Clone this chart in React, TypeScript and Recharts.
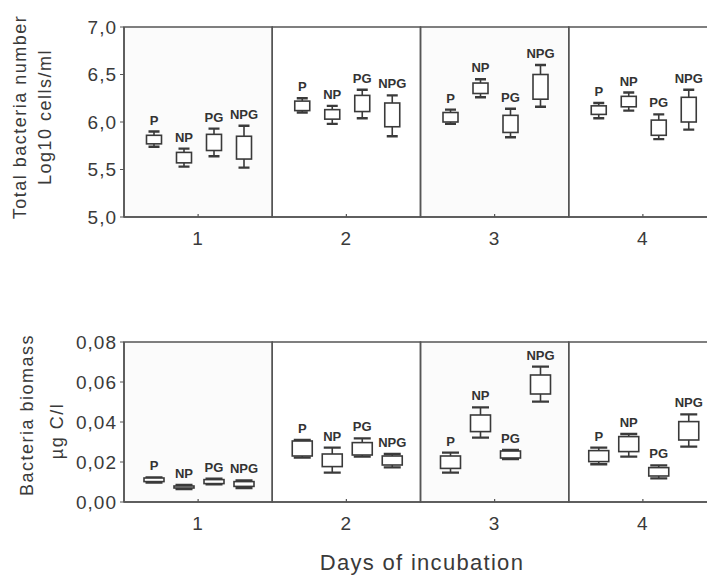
import React from 'react';
import { ComposedChart, Bar, XAxis, YAxis, ReferenceArea } from 'recharts';

const days = ['1', '2', '3', '4'];
const groups = ['P', 'NP', 'PG', 'NPG'];

// each entry: [min, q1, q3, max] for days 1..4
const cellsP = [[5.74, 5.77, 5.86, 5.9], [6.1, 6.12, 6.22, 6.25], [5.98, 6.0, 6.1, 6.13], [6.04, 6.08, 6.17, 6.2]];
const cellsNP = [[5.53, 5.57, 5.68, 5.72], [5.98, 6.03, 6.13, 6.17], [6.26, 6.3, 6.41, 6.45], [6.12, 6.16, 6.27, 6.31]];
const cellsPG = [[5.64, 5.7, 5.87, 5.93], [6.04, 6.11, 6.28, 6.34], [5.84, 5.89, 6.07, 6.14], [5.82, 5.86, 6.02, 6.08]];
const cellsNPG = [[5.52, 5.61, 5.85, 5.96], [5.85, 5.95, 6.2, 6.28], [6.16, 6.24, 6.5, 6.6], [5.92, 6.0, 6.26, 6.34]];

const biomassP = [[0.0097, 0.0102, 0.012, 0.0123], [0.0222, 0.023, 0.0305, 0.031], [0.0147, 0.0168, 0.023, 0.0247], [0.0189, 0.0202, 0.0257, 0.0272]];
const biomassNP = [[0.0065, 0.007, 0.008, 0.0085], [0.0147, 0.0177, 0.024, 0.0272], [0.0322, 0.0352, 0.0435, 0.0473], [0.0227, 0.0252, 0.0327, 0.034]];
const biomassPG = [[0.0088, 0.0092, 0.0112, 0.0117], [0.0227, 0.0235, 0.0297, 0.0318], [0.0215, 0.022, 0.0255, 0.026], [0.0118, 0.013, 0.0172, 0.0183]];
const biomassNPG = [[0.007, 0.0078, 0.0102, 0.0108], [0.0173, 0.0185, 0.023, 0.024], [0.0502, 0.054, 0.0635, 0.0677], [0.0277, 0.031, 0.0402, 0.0438]];

const cellTicks = [5, 5.5, 6, 6.5, 7];
const biomassTicks = [0, 0.02, 0.04, 0.06, 0.08];

const FONT = '"Liberation Sans", Arial, Helvetica, sans-serif';
const INK = '#3a3a3a';
const AXIS = '#555';

const buildRows = (p, np, pg, npg) =>
  days.map((day, i) => ({ day, P: p[i], NP: np[i], PG: pg[i], NPG: npg[i] }));

const topRows = buildRows(cellsP, cellsNP, cellsPG, cellsNPG);
const bottomRows = buildRows(biomassP, biomassNP, biomassPG, biomassNPG);

// box + whiskers drawn inside the bar slot that spans min..max
const makeBox = (name: string, boxW: number, capW: number) => (props: any) => {
  const { x, y, width, height, payload } = props;
  if (!payload || !payload[name]) return null;
  const [lo, q1, q3, hi] = payload[name];
  const top = Math.min(y, y + height);
  const bot = Math.max(y, y + height);
  const py = (v: number) => (hi === lo ? top : top + ((hi - v) / (hi - lo)) * (bot - top));
  const cx = x + width / 2;
  const bTop = py(q3);
  const bBot = py(q1);
  return (
    <g>
      <line x1={cx} x2={cx} y1={top} y2={bTop} stroke={INK} strokeWidth={1.6} />
      <line x1={cx} x2={cx} y1={bBot} y2={bot} stroke={INK} strokeWidth={1.6} />
      <line x1={cx - capW / 2} x2={cx + capW / 2} y1={top} y2={top} stroke={INK} strokeWidth={2.4} />
      <line x1={cx - capW / 2} x2={cx + capW / 2} y1={bot} y2={bot} stroke={INK} strokeWidth={2.4} />
      <rect x={cx - boxW / 2} y={bTop} width={boxW} height={Math.max(bBot - bTop, 0.5)} fill="#fff" stroke={INK} strokeWidth={1.6} />
      <text x={cx} y={top - 7} textAnchor="middle" fontFamily={FONT} fontWeight="bold" fontSize={13} fill="#333">
        {name}
      </text>
    </g>
  );
};

const XTick = (props: any) => {
  const { x, y, payload } = props;
  return (
    <g>
      <line x1={x} x2={x} y1={y} y2={y - 3} stroke={AXIS} strokeWidth={1.2} />
      <text x={x} y={y + 21} textAnchor="middle" dominantBaseline="central" fontFamily={FONT} fontSize={19} letterSpacing={1} fill={INK}>
        {payload.value}
      </text>
    </g>
  );
};

const makeYTick = (digits: number) => (props: any) => {
  const { x, y, payload } = props;
  return (
    <text x={x} y={y} textAnchor="end" dominantBaseline="central" fontFamily={FONT} fontSize={19} letterSpacing={1} fill={INK}>
      {Number(payload.value).toFixed(digits).replace('.', ',')}
    </text>
  );
};

const AxisTitle = ({ lines }: { lines: { text: string; x: number; y: number }[] }) => (
  <g>
    {lines.map((l) => (
      <text key={l.text} x={l.x} y={l.y} transform={`rotate(-90 ${l.x} ${l.y})`} textAnchor="middle" dominantBaseline="central" fontFamily={FONT} fontSize={18} letterSpacing={1.5} fill={INK}>
        {l.text}
      </text>
    ))}
  </g>
);

const Panel = ({ rows, domain, ticks, digits, boxW, capW, title }: any) => (
  <ComposedChart width={717} height={rows === topRows ? 257 : 242} data={rows} margin={{ top: rows === topRows ? 27 : 42, right: 0, bottom: 0, left: 0 }} barCategoryGap={15} barGap={0}>
    {days.map((d, i) => (
      <ReferenceArea key={d} x1={d} x2={d} fill={i % 2 === 0 ? '#000' : 'none'} fillOpacity={0.015} stroke={AXIS} strokeWidth={1.5} ifOverflow="visible" />
    ))}
    <XAxis dataKey="day" height={40} tickSize={0} tickMargin={0} tick={<XTick />} axisLine={{ stroke: AXIS, strokeWidth: 1.5 }} tickLine={false} interval={0} />
    <YAxis width={124} domain={domain} ticks={ticks} type="number" allowDataOverflow tickSize={4} tickMargin={3} tick={makeYTick(digits)} axisLine={{ stroke: AXIS, strokeWidth: 1.5 }} tickLine={{ stroke: AXIS }} label={<AxisTitle lines={title} />} />
    {groups.map((g) => (
      <Bar key={g} dataKey={(r: any) => [r[g][0], r[g][3]]} fill="none" isAnimationActive={false} shape={makeBox(g, boxW, capW)} />
    ))}
  </ComposedChart>
);

export default function App() {
  return (
    <div style={{ position: 'absolute', left: 0, top: 0, width: 707, height: 576, overflow: 'hidden', background: '#fff', fontFamily: FONT }}>
      <div style={{ position: 'absolute', left: 0, top: 0 }}>
        <Panel
          rows={topRows}
          domain={[5, 7]}
          ticks={cellTicks}
          digits={1}
          boxW={15}
          capW={11}
          title={[
            { text: 'Total bacteria number', x: 20, y: 117 },
            { text: 'Log10 cells/ml', x: 45, y: 117 },
          ]}
        />
      </div>
      <div style={{ position: 'absolute', left: 0, top: 300 }}>
        <Panel
          rows={bottomRows}
          domain={[0, 0.08]}
          ticks={biomassTicks}
          digits={2}
          boxW={20}
          capW={17}
          title={[
            { text: 'Bacteria biomass', x: 27, y: 115 },
            { text: 'µg C/l', x: 57, y: 131 },
          ]}
        />
      </div>
      <div style={{ position: 'absolute', left: 0, top: 551, width: 844, textAlign: 'center', fontSize: 22, lineHeight: '24px', letterSpacing: 1.3, color: INK }}>
        Days of incubation
      </div>
    </div>
  );
}
